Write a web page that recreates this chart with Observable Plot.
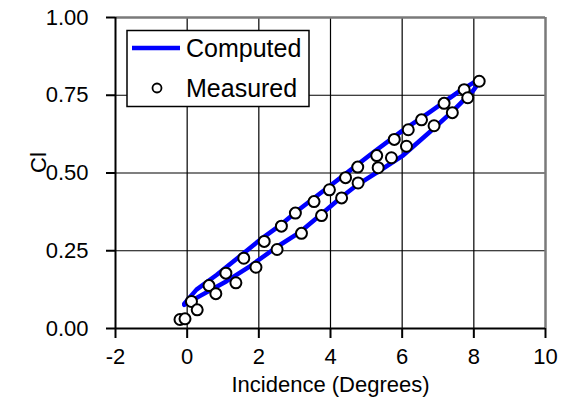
<!DOCTYPE html>
<html>
<head>
<meta charset="utf-8">
<script src="https://cdn.jsdelivr.net/npm/d3@7"></script>
<script src="https://cdn.jsdelivr.net/npm/@observablehq/plot@0.6"></script>
<style>
  html, body { margin: 0; padding: 0; background: white; }
  svg { display: block; }
</style>
</head>
<body>
<div id="chart"></div>
<script>
// Computed curve, upper branch
const upperX = [-0.08, 0.26, 0.82, 1.47, 2.03, 2.63, 3.15, 3.98, 4.52, 5.19, 5.98, 6.77, 7.61, 8.20];
const upperY = [0.080, 0.125, 0.172, 0.232, 0.285, 0.335, 0.385, 0.458, 0.506, 0.566, 0.634, 0.696, 0.764, 0.805];
// Computed curve, lower branch
const lowerX = [-0.08, 0.35, 1.10, 1.75, 2.50, 3.15, 3.75, 4.31, 4.75, 5.38, 6.03, 6.77, 7.42, 7.98, 8.20];
const lowerY = [0.076, 0.104, 0.152, 0.200, 0.262, 0.310, 0.368, 0.423, 0.462, 0.508, 0.557, 0.632, 0.700, 0.765, 0.800];
// Measured points
const measX = [-0.20, -0.06, 0.12, 0.28, 0.61, 0.80, 1.08, 1.36, 1.58, 1.92, 2.15, 2.51, 2.63, 3.02, 3.19, 3.54, 3.75, 3.97, 4.31, 4.42, 4.76, 4.77, 5.29, 5.33, 5.70, 5.78, 6.12, 6.17, 6.54, 6.89, 7.17, 7.40, 7.73, 7.83, 8.15];
const measY = [0.029, 0.031, 0.087, 0.060, 0.138, 0.112, 0.178, 0.147, 0.226, 0.197, 0.280, 0.254, 0.329, 0.371, 0.306, 0.408, 0.363, 0.446, 0.420, 0.485, 0.519, 0.468, 0.556, 0.517, 0.549, 0.608, 0.586, 0.639, 0.671, 0.652, 0.724, 0.694, 0.768, 0.742, 0.795];
// Ticks and labels
const xTicks = [-2, 0, 2, 4, 6, 8, 10];
const yTicks = [0, 0.25, 0.5, 0.75, 1];
const xGrid = [0, 2, 4, 6, 8];
const yGrid = [0.25, 0.5, 0.75];
const xTitle = "Incidence (Degrees)";
const yTitle = "Cl";
const seriesNames = ["Computed", "Measured"];

const upper = upperX.map((x, i) => ({x, y: upperY[i]}));
const lower = lowerX.map((x, i) => ({x, y: lowerY[i]}));
const measured = measX.map((x, i) => ({x, y: measY[i]}));

const font = "'Liberation Sans', Arial, Helvetica, sans-serif";

const plot = Plot.plot({
  width: 563,
  height: 414,
  marginLeft: 115,
  marginRight: 18,
  marginTop: 17,
  marginBottom: 86,
  style: {fontFamily: font, fontSize: "22px", background: "white", color: "black"},
  x: {domain: [-2, 10]},
  y: {domain: [0, 1]},
  marks: [
    Plot.ruleX(xGrid, {stroke: "black", strokeWidth: 1.2}),
    Plot.ruleY(yGrid, {stroke: "black", strokeWidth: 1.2}),
    Plot.ruleY([1], {stroke: "#7a7a7a", strokeWidth: 2.5}),
    Plot.ruleX([10], {stroke: "#7a7a7a", strokeWidth: 2.5}),
    Plot.axisX(xTicks, {tickSize: 10, tickPadding: 10, fontSize: 22, stroke: "black", strokeWidth: 2, tickFormat: d => String(d), label: null}),
    Plot.axisY(yTicks, {tickSize: 9, tickPadding: 18, fontSize: 22, stroke: "black", strokeWidth: 2, tickFormat: d3.format(".2f"), label: null}),
    Plot.ruleX([-2], {stroke: "black", strokeWidth: 2}),
    Plot.ruleY([0], {stroke: "black", strokeWidth: 2}),
    Plot.line(upper, {x: "x", y: "y", stroke: "#0000ff", strokeWidth: 4.5, strokeLinecap: "round"}),
    Plot.line(lower, {x: "x", y: "y", stroke: "#0000ff", strokeWidth: 4.5, strokeLinecap: "round"}),
    Plot.dot(measured, {x: "x", y: "y", r: 5.5, fill: "white", stroke: "black", strokeWidth: 2}),
    Plot.text([xTitle], {frameAnchor: "bottom", lineAnchor: "middle", text: d => d, dy: 56, fontSize: 22, fill: "black"}),
    Plot.text([yTitle], {frameAnchor: "left", lineAnchor: "middle", text: d => d, dx: -77, rotate: -90, fontSize: 22, fill: "black"})
  ]
});

document.getElementById("chart").appendChild(plot);

// Legend box
const svg = d3.select(plot);
const lg = svg.append("g").attr("font-family", font).attr("font-size", 25).attr("text-anchor", "start");
lg.append("rect").attr("x", 127).attr("y", 30.5).attr("width", 182).attr("height", 76)
  .attr("fill", "white").attr("stroke", "black").attr("stroke-width", 1.5);
lg.append("line").attr("x1", 132).attr("x2", 180).attr("y1", 48).attr("y2", 48)
  .attr("stroke", "#0000ff").attr("stroke-width", 4.5);
lg.append("text").attr("x", 186).attr("y", 57).attr("fill", "black").attr("text-anchor", "start").text(seriesNames[0]);
lg.append("circle").attr("cx", 157).attr("cy", 88).attr("r", 4.5)
  .attr("fill", "white").attr("stroke", "black").attr("stroke-width", 1.8);
lg.append("text").attr("x", 186).attr("y", 97).attr("fill", "black").attr("text-anchor", "start").text(seriesNames[1]);
</script>
</body>
</html>
